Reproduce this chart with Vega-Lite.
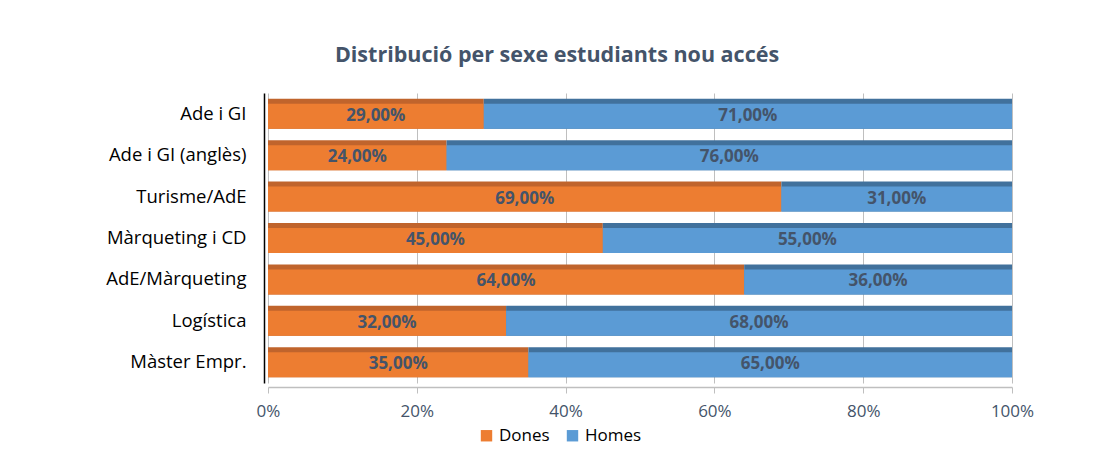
{
  "$schema": "https://vega.github.io/schema/vega-lite/v6.json",
  "autosize": {"type": "none"},
  "width": 744,
  "height": 290,
  "padding": {"left": 268, "top": 93, "right": 85, "bottom": 71},
  "background": "#ffffff",
  "config": {
    "font": "Open Sans",
    "view": {"stroke": null},
    "locale": {"number": {"decimal": ",", "thousands": ".", "grouping": [3], "currency": ["", " €"]}}
  },
  "title": {
    "text": "Distribució per sexe estudiants nou accés",
    "font": "Open Sans",
    "fontSize": 21.5,
    "fontWeight": "bold",
    "color": "#44546A",
    "anchor": "middle",
    "dx": -83,
    "offset": 27
  },
  "data": {
    "values": [
      {"programa": "Ade i GI", "sexe": "Dones", "valor": 0.29},
      {"programa": "Ade i GI", "sexe": "Homes", "valor": 0.71},
      {"programa": "Ade i GI (anglès)", "sexe": "Dones", "valor": 0.24},
      {"programa": "Ade i GI (anglès)", "sexe": "Homes", "valor": 0.76},
      {"programa": "Turisme/AdE", "sexe": "Dones", "valor": 0.69},
      {"programa": "Turisme/AdE", "sexe": "Homes", "valor": 0.31},
      {"programa": "Màrqueting i CD", "sexe": "Dones", "valor": 0.45},
      {"programa": "Màrqueting i CD", "sexe": "Homes", "valor": 0.55},
      {"programa": "AdE/Màrqueting", "sexe": "Dones", "valor": 0.64},
      {"programa": "AdE/Màrqueting", "sexe": "Homes", "valor": 0.36},
      {"programa": "Logística", "sexe": "Dones", "valor": 0.32},
      {"programa": "Logística", "sexe": "Homes", "valor": 0.68},
      {"programa": "Màster Empr.", "sexe": "Dones", "valor": 0.35},
      {"programa": "Màster Empr.", "sexe": "Homes", "valor": 0.65}
    ]
  },
  "transform": [
    {"stack": "valor", "groupby": ["programa"], "sort": [{"field": "sexe", "order": "ascending"}], "as": ["x0", "x1"]},
    {"calculate": "(datum.x0 + datum.x1) / 2", "as": "xmid"}
  ],
  "encoding": {
    "y": {
      "field": "programa",
      "type": "nominal",
      "sort": ["Ade i GI", "Ade i GI (anglès)", "Turisme/AdE", "Màrqueting i CD", "AdE/Màrqueting", "Logística", "Màster Empr."],
      "scale": {"paddingInner": 0.27, "paddingOuter": 0.135},
      "axis": {
        "title": null,
        "ticks": false,
        "domain": true,
        "domainColor": "#000000",
        "domainWidth": 1.5,
        "offset": 4,
        "labelPadding": 18,
        "labelFont": "Open Sans",
        "labelFontSize": 18.5,
        "labelColor": "#000000"
      }
    }
  },
  "layer": [
    {
      "mark": {"type": "bar", "size": 30},
      "encoding": {
        "x": {
          "field": "x0",
          "type": "quantitative",
          "scale": {"domain": [0, 1]},
          "axis": {
            "title": null,
            "format": ".0%",
            "values": [0, 0.2, 0.4, 0.6, 0.8, 1],
            "grid": true,
            "gridColor": "#BFBFBF",
            "gridWidth": 1,
            "domain": true,
            "domainColor": "#BFBFBF",
            "domainWidth": 1.5,
            "ticks": true,
            "tickColor": "#BFBFBF",
            "tickSize": 6,
            "offset": 4,
            "labelPadding": 10,
            "labelFlush": false,
            "labelFont": "Open Sans",
            "labelFontSize": 17,
            "labelColor": "#44546A"
          }
        },
        "x2": {"field": "x1"},
        "color": {
          "field": "sexe",
          "type": "nominal",
          "scale": {"domain": ["Dones", "Homes"], "range": ["#C0642C", "#41719C"]},
          "legend": null
        }
      }
    },
    {
      "mark": {"type": "bar", "size": 25, "yOffset": 2.5},
      "encoding": {
        "x": {"field": "x0", "type": "quantitative"},
        "x2": {"field": "x1"},
        "color": {
          "field": "sexe",
          "type": "nominal",
          "scale": {"domain": ["Dones", "Homes"], "range": ["#ED7D31", "#5B9BD5"]},
          "legend": {
            "title": null,
            "orient": "none",
            "legendX": 210,
            "legendY": 334,
            "direction": "horizontal",
            "symbolType": "square",
            "symbolSize": 130,
            "symbolStrokeWidth": 0,
            "labelFont": "Open Sans",
            "labelFontSize": 17,
            "labelColor": "#000000",
            "columnPadding": 14,
            "labelOffset": 4
          }
        }
      }
    },
    {
      "mark": {"type": "text", "fontWeight": "bold", "fontSize": 17, "font": "Open Sans", "color": "#44546A", "yOffset": 2},
      "encoding": {
        "x": {"field": "xmid", "type": "quantitative"},
        "text": {"field": "valor", "type": "quantitative", "format": ".2%"}
      }
    }
  ],
  "resolve": {"scale": {"color": "independent"}}
}
